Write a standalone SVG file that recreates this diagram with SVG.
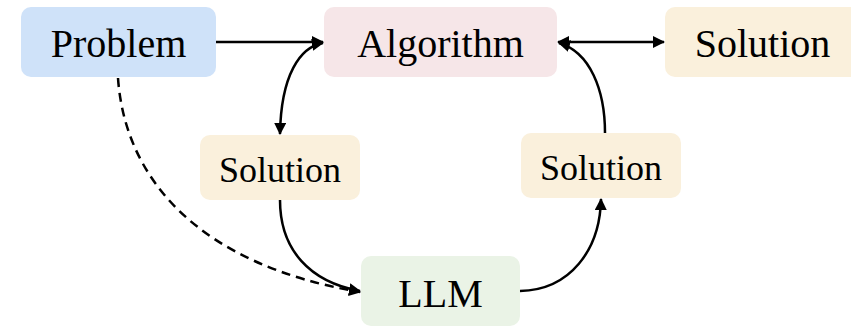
<svg xmlns="http://www.w3.org/2000/svg" width="851" height="328" viewBox="0 0 851 328">
<style>
.lbl{font-family:"Liberation Serif","Times New Roman",serif;fill:#000;text-anchor:middle}
.big{font-size:40px}
.sm{font-size:36px}
.edge{fill:none;stroke:#000;stroke-width:2.5}
.dash{stroke-dasharray:9 6}
</style>
<defs>
<marker id="ah" viewBox="0 0 12 12" refX="11" refY="6" markerWidth="12" markerHeight="12" markerUnits="userSpaceOnUse" orient="auto-start-reverse">
<path d="M0,0 L12,6 L0,12 Z" fill="#000"/>
</marker>
</defs>
<rect width="851" height="328" fill="#fff"/>
<g id="problem"><rect x="21" y="7" width="195" height="70" rx="10" fill="#cfe2f9"/><text class="lbl big" x="118.5" y="57">Problem</text></g>
<g id="algorithm"><rect x="324" y="7" width="233" height="70" rx="10" fill="#f6e6e8"/><text class="lbl big" x="440.5" y="57">Algorithm</text></g>
<g id="solution-out"><rect x="665" y="7" width="195" height="70" rx="10" fill="#faf0dc"/><text class="lbl big" x="762.5" y="57">Solution</text></g>
<g id="solution-left"><rect x="200" y="135" width="160" height="65" rx="10" fill="#faf0dc"/><text class="lbl sm" x="280" y="182">Solution</text></g>
<g id="solution-right"><rect x="521" y="133" width="160" height="65" rx="10" fill="#faf0dc"/><text class="lbl sm" x="601" y="180">Solution</text></g>
<g id="llm"><rect x="361" y="256" width="159" height="70" rx="10" fill="#eaf3e6"/><text class="lbl big" x="440.5" y="307">LLM</text></g>
<g id="connectors">
<path class="edge" d="M216,42 L323,42" marker-end="url(#ah)"/>
<path class="edge" d="M558,42 L664,42" marker-start="url(#ah)" marker-end="url(#ah)"/>
<path class="edge" d="M323,43 C300,47 281,75 280,134" marker-start="url(#ah)" marker-end="url(#ah)"/>
<path class="edge" d="M605,133 C605,90 590,52 559,43" marker-end="url(#ah)"/>
<path class="edge" d="M280,200 C280,250 310,282 360,291" marker-end="url(#ah)"/>
<path class="edge" d="M520,291 C570,290 600,250 601,199" marker-end="url(#ah)"/>
<path class="edge dash" d="M118,78 C125,180 200,265 360,292" marker-end="url(#ah)"/>
</g>
</svg>
